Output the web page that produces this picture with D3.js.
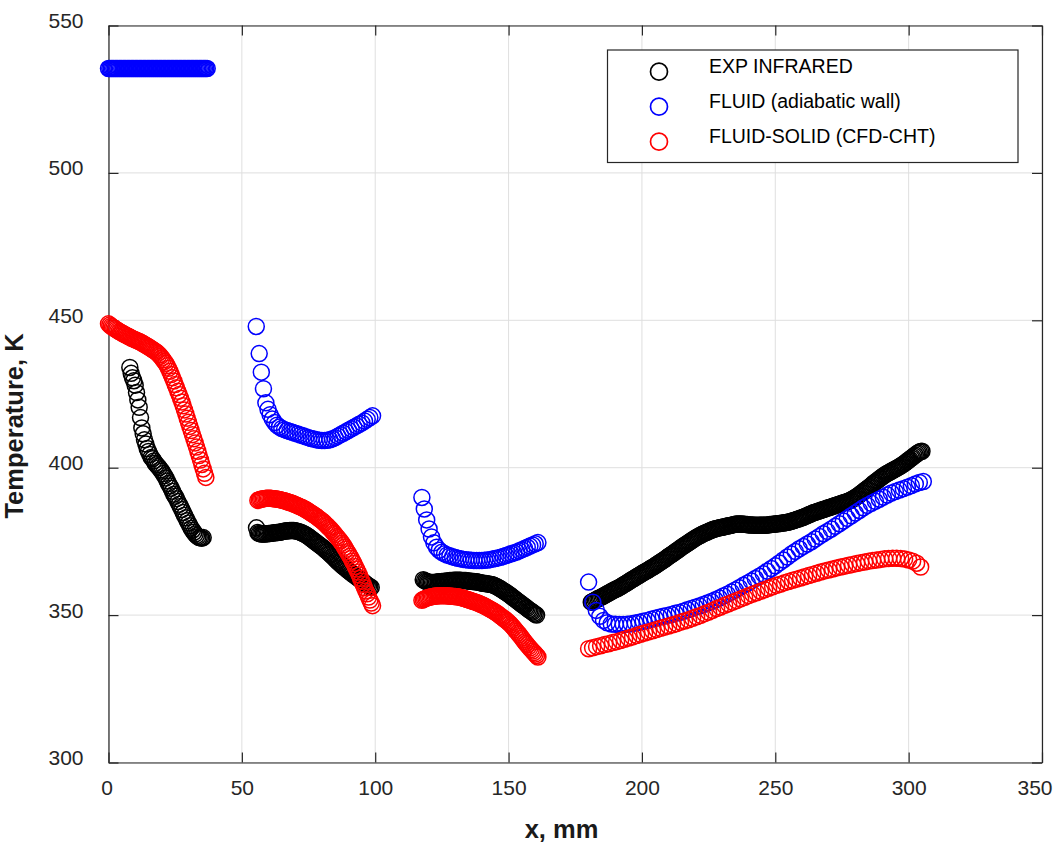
<!DOCTYPE html>
<html><head><meta charset="utf-8">
<script src="https://cdn.jsdelivr.net/npm/d3@7"></script>
<style>
html,body{margin:0;padding:0;background:#fff;}
svg{display:block;font-family:"Liberation Sans",Arial,Helvetica,sans-serif;}
</style></head><body>
<svg id="chart" width="1062" height="850"></svg>
<script>
// Axis ticks
const xTicks = [0, 50, 100, 150, 200, 250, 300, 350];
const yTicks = [300, 350, 400, 450, 500, 550];

// Legend labels
const seriesNames = ["EXP INFRARED", "FLUID (adiabatic wall)", "FLUID-SOLID (CFD-CHT)"];

// EXP INFRARED: wall temperature [x mm, T K], one array per measured section
const expSeg1 = [[8,434.0],[8.5,432.0],[9,430.5],[9.5,429.5],[10,428.0],[10.5,425.5],[11,423.0],[11.5,420.5],[12,417.0],[12.5,413.5],[13,411.5],[13.5,409.5],[14,408.0],[14.5,406.5],[15,405.5],[15.5,404.5],[16,403.5],[16.5,403.0],[17,402.3],[17.5,401.5],[18,401.0],[18.5,400.5],[19,400.0],[19.5,399.3],[20,398.8],[20.5,398.0],[21,397.3],[21.5,396.5],[22,395.5],[22.5,394.6],[23,393.8],[23.5,393.0],[24,392.0],[24.5,391.0],[25,390.3],[25.5,389.5],[26,388.5],[26.5,387.6],[27,386.8],[27.5,385.8],[28,384.8],[28.5,383.9],[29,383.0],[29.5,382.0],[30,381.2],[30.5,380.3],[31,379.5],[31.5,378.8],[32,378.1],[32.5,377.5],[33,377.0],[33.5,376.6],[34,376.3],[34.5,376.2],[35,376.1],[35.5,376.3]];
const expSeg2 = [[55.5,379.6],[56,378.0],[56.5,377.7],[57,377.6],[57.5,377.5],[58,377.5],[58.5,377.5],[59,377.6],[59.5,377.6],[60,377.7],[60.5,377.7],[61,377.8],[61.5,377.8],[62,377.9],[62.5,377.9],[63,378.0],[63.5,378.0],[64,378.1],[64.5,378.2],[65,378.3],[65.5,378.4],[66,378.5],[66.5,378.5],[67,378.6],[67.5,378.6],[68,378.7],[68.5,378.7],[69,378.7],[69.5,378.7],[70,378.6],[70.5,378.5],[71,378.4],[71.5,378.3],[72,378.1],[72.5,377.9],[73,377.7],[73.5,377.5],[74,377.2],[74.5,376.9],[75,376.6],[75.5,376.3],[76,375.9],[76.5,375.6],[77,375.2],[77.5,374.9],[78,374.5],[78.5,374.2],[79,373.8],[79.5,373.5],[80,373.2],[80.5,372.8],[81,372.4],[81.5,372.0],[82,371.6],[82.5,371.2],[83,370.8],[83.5,370.4],[84,369.9],[84.5,369.5],[85,369.0],[85.5,368.6],[86,368.1],[86.5,367.7],[87,367.3],[87.5,366.9],[88,366.5],[88.5,366.2],[89,365.8],[89.5,365.4],[90,365.0],[90.5,364.7],[91,364.3],[91.5,364.0],[92,363.6],[92.5,363.3],[93,363.0],[93.5,362.6],[94,362.3],[94.5,362.0],[95,361.6],[95.5,361.3],[96,360.9],[96.5,360.6],[97,360.2],[97.5,359.9],[98,359.6],[98.5,359.4]];
const expSeg3 = [[118,362.0],[118.5,361.7],[119,361.5],[119.5,361.3],[120,361.2],[120.5,361.1],[121,361.1],[121.5,361.1],[122,361.1],[122.5,361.1],[123,361.2],[123.5,361.2],[124,361.3],[124.5,361.3],[125,361.4],[125.5,361.4],[126,361.5],[126.5,361.5],[127,361.6],[127.5,361.6],[128,361.7],[128.5,361.7],[129,361.7],[129.5,361.8],[130,361.8],[130.5,361.8],[131,361.8],[131.5,361.8],[132,361.8],[132.5,361.7],[133,361.7],[133.5,361.7],[134,361.7],[134.5,361.6],[135,361.6],[135.5,361.5],[136,361.5],[136.5,361.4],[137,361.4],[137.5,361.3],[138,361.3],[138.5,361.2],[139,361.1],[139.5,361.0],[140,360.9],[140.5,360.8],[141,360.7],[141.5,360.7],[142,360.6],[142.5,360.5],[143,360.5],[143.5,360.4],[144,360.3],[144.5,360.1],[145,359.9],[145.5,359.7],[146,359.4],[146.5,359.2],[147,358.9],[147.5,358.6],[148,358.3],[148.5,358.0],[149,357.7],[149.5,357.4],[150,357.1],[150.5,356.8],[151,356.4],[151.5,356.1],[152,355.7],[152.5,355.4],[153,355.0],[153.5,354.7],[154,354.3],[154.5,354.0],[155,353.6],[155.5,353.3],[156,353.0],[156.5,352.6],[157,352.3],[157.5,351.9],[158,351.6],[158.5,351.3],[159,351.0],[159.5,350.6],[160,350.3],[160.5,350.0]];
const expSeg4 = [[181,354.4],[181.5,354.6],[182,354.8],[182.5,355.1],[183,355.3],[183.5,355.6],[184,355.8],[184.5,356.0],[185,356.2],[185.5,356.5],[186,356.7],[186.5,357.0],[187,357.2],[187.5,357.5],[188,357.7],[188.5,358.0],[189,358.2],[189.5,358.5],[190,358.7],[190.5,358.9],[191,359.1],[191.5,359.4],[192,359.6],[192.5,359.9],[193,360.2],[193.5,360.5],[194,360.7],[194.5,361.0],[195,361.3],[195.5,361.6],[196,361.9],[196.5,362.2],[197,362.4],[197.5,362.7],[198,363.0],[198.5,363.3],[199,363.5],[199.5,363.8],[200,364.1],[200.5,364.4],[201,364.6],[201.5,364.9],[202,365.1],[202.5,365.4],[203,365.7],[203.5,366.0],[204,366.2],[204.5,366.5],[205,366.8],[205.5,367.1],[206,367.4],[206.5,367.7],[207,368.0],[207.5,368.3],[208,368.6],[208.5,368.9],[209,369.2],[209.5,369.6],[210,369.9],[210.5,370.2],[211,370.5],[211.5,370.8],[212,371.1],[212.5,371.5],[213,371.8],[213.5,372.1],[214,372.4],[214.5,372.8],[215,373.1],[215.5,373.4],[216,373.7],[216.5,374.0],[217,374.3],[217.5,374.6],[218,374.9],[218.5,375.2],[219,375.5],[219.5,375.8],[220,376.1],[220.5,376.4],[221,376.6],[221.5,376.9],[222,377.1],[222.5,377.4],[223,377.6],[223.5,377.8],[224,378.0],[224.5,378.2],[225,378.4],[225.5,378.6],[226,378.8],[226.5,379.0],[227,379.1],[227.5,379.3],[228,379.4],[228.5,379.5],[229,379.6],[229.5,379.7],[230,379.8],[230.5,379.9],[231,380.0],[231.5,380.1],[232,380.2],[232.5,380.3],[233,380.4],[233.5,380.5],[234,380.6],[234.5,380.7],[235,380.8],[235.5,380.9],[236,380.9],[236.5,380.9],[237,380.9],[237.5,380.9],[238,380.8],[238.5,380.8],[239,380.7],[239.5,380.7],[240,380.6],[240.5,380.6],[241,380.6],[241.5,380.6],[242,380.5],[242.5,380.5],[243,380.5],[243.5,380.5],[244,380.5],[244.5,380.5],[245,380.5],[245.5,380.5],[246,380.5],[246.5,380.5],[247,380.6],[247.5,380.6],[248,380.7],[248.5,380.7],[249,380.8],[249.5,380.8],[250,380.9],[250.5,381.0],[251,381.0],[251.5,381.1],[252,381.1],[252.5,381.2],[253,381.2],[253.5,381.3],[254,381.4],[254.5,381.5],[255,381.6],[255.5,381.7],[256,381.8],[256.5,382.0],[257,382.1],[257.5,382.3],[258,382.4],[258.5,382.6],[259,382.7],[259.5,382.9],[260,383.0],[260.5,383.2],[261,383.4],[261.5,383.6],[262,383.8],[262.5,384.0],[263,384.2],[263.5,384.4],[264,384.6],[264.5,384.8],[265,384.9],[265.5,385.1],[266,385.2],[266.5,385.4],[267,385.5],[267.5,385.7],[268,385.8],[268.5,386.0],[269,386.1],[269.5,386.3],[270,386.4],[270.5,386.6],[271,386.7],[271.5,386.9],[272,387.0],[272.5,387.2],[273,387.3],[273.5,387.5],[274,387.6],[274.5,387.8],[275,387.9],[275.5,388.1],[276,388.2],[276.5,388.4],[277,388.5],[277.5,388.7],[278,388.9],[278.5,389.1],[279,389.4],[279.5,389.6],[280,389.9],[280.5,390.2],[281,390.5],[281.5,390.8],[282,391.2],[282.5,391.5],[283,391.9],[283.5,392.2],[284,392.6],[284.5,392.9],[285,393.3],[285.5,393.6],[286,394.0],[286.5,394.4],[287,394.8],[287.5,395.1],[288,395.5],[288.5,395.8],[289,396.2],[289.5,396.5],[290,396.9],[290.5,397.2],[291,397.5],[291.5,397.8],[292,398.1],[292.5,398.3],[293,398.6],[293.5,398.8],[294,399.1],[294.5,399.3],[295,399.6],[295.5,399.8],[296,400.1],[296.5,400.3],[297,400.6],[297.5,400.9],[298,401.2],[298.5,401.5],[299,401.9],[299.5,402.2],[300,402.6],[300.5,402.9],[301,403.3],[301.5,403.6],[302,404.0],[302.5,404.3],[303,404.7],[303.5,405.0],[304,405.3],[304.5,405.5],[305,405.6]];

// FLUID (adiabatic wall): [x mm, T K]
const fluidSeg1 = [[0,535.4],[0.5,535.4],[1,535.4],[1.5,535.4],[2,535.4],[2.5,535.4],[3,535.4],[3.5,535.4],[4,535.4],[4.5,535.4],[5,535.4],[5.5,535.4],[6,535.4],[6.5,535.4],[7,535.4],[7.5,535.4],[8,535.4],[8.5,535.4],[9,535.4],[9.5,535.4],[10,535.4],[10.5,535.4],[11,535.4],[11.5,535.4],[12,535.4],[12.5,535.4],[13,535.4],[13.5,535.4],[14,535.4],[14.5,535.4],[15,535.4],[15.5,535.4],[16,535.4],[16.5,535.4],[17,535.4],[17.5,535.4],[18,535.4],[18.5,535.4],[19,535.4],[19.5,535.4],[20,535.4],[20.5,535.4],[21,535.4],[21.5,535.4],[22,535.4],[22.5,535.4],[23,535.4],[23.5,535.4],[24,535.4],[24.5,535.4],[25,535.4],[25.5,535.4],[26,535.4],[26.5,535.4],[27,535.4],[27.5,535.4],[28,535.4],[28.5,535.4],[29,535.4],[29.5,535.4],[30,535.4],[30.5,535.4],[31,535.4],[31.5,535.4],[32,535.4],[32.5,535.4],[33,535.4],[33.5,535.4],[34,535.4],[34.5,535.4],[35,535.4],[35.5,535.4],[36,535.4],[36.5,535.4],[37,535.4]];
const fluidSeg2 = [[55.4,447.9],[56.5,438.7],[57.3,432.4],[58.1,426.8],[59.0,422.0],[59.8,419.8],[60.6,418.0],[61.4,416.5],[62.3,415.3],[63.2,414.4],[64.1,413.8],[65,413.3],[66,412.9],[67,412.6],[68,412.3],[69,412.0],[70,411.7],[71,411.4],[72,411.1],[73,410.8],[74,410.5],[75,410.2],[76,409.9],[77,409.7],[78,409.5],[79,409.3],[80,409.2],[81,409.2],[82,409.3],[83,409.5],[84,409.8],[85,410.2],[86,410.7],[87,411.2],[88,411.7],[89,412.2],[90,412.7],[91,413.2],[92,413.7],[93,414.2],[94,414.7],[95,415.2],[96,415.8],[97,416.4],[98,417.0],[99,417.6]];
const fluidSeg3 = [[117.5,389.9],[118.4,386.0],[119.3,382.3],[120.2,379.2],[121.1,376.5],[122,374.5],[123,373.0],[124,372.0],[125,371.3],[126,370.8],[127,370.4],[128,370.1],[129,369.8],[130,369.5],[131,369.3],[132,369.1],[133,368.9],[134,368.8],[135,368.7],[136,368.6],[137,368.5],[138,368.5],[139,368.5],[140,368.5],[141,368.6],[142,368.7],[143,368.8],[144,369.0],[145,369.2],[146,369.4],[147,369.6],[148,369.9],[149,370.2],[150,370.5],[151,370.8],[152,371.1],[153,371.4],[154,371.8],[155,372.2],[156,372.6],[157,373.0],[158,373.4],[159,373.8],[160,374.2],[161,374.6]];
const fluidSeg4 = [[180.0,361.2],[181.6,354.4],[182.9,351.6],[184.2,349.6],[185.6,348.2],[187.0,347.4],[188.5,347.0],[190,346.9],[191.5,346.8],[193,346.8],[194.5,346.9],[196,347.1],[197.5,347.3],[199,347.6],[200.5,347.9],[202,348.2],[203.5,348.6],[205,348.9],[206.5,349.3],[208,349.6],[209.5,349.9],[211,350.2],[212.5,350.6],[214,350.9],[215.5,351.3],[217,351.8],[218.5,352.2],[220,352.7],[221.5,353.1],[223,353.6],[224.5,354.1],[226,354.6],[227.5,355.2],[229,355.8],[230.5,356.5],[232,357.1],[233.5,357.8],[235,358.5],[236.5,359.3],[238,360.1],[239.5,360.8],[241,361.6],[242.5,362.4],[244,363.2],[245.5,364.0],[247,364.9],[248.5,365.8],[250,366.7],[251.5,367.7],[253,368.7],[254.5,369.7],[256,370.7],[257.5,371.6],[259,372.5],[260.5,373.3],[262,374.1],[263.5,374.9],[265,375.8],[266.5,376.7],[268,377.6],[269.5,378.4],[271,379.2],[272.5,380.1],[274,381.0],[275.5,381.9],[277,382.8],[278.5,383.7],[280,384.6],[281.5,385.5],[283,386.4],[284.5,387.2],[286,387.9],[287.5,388.6],[289,389.3],[290.5,390.0],[292,390.7],[293.5,391.4],[295,391.9],[296.5,392.4],[298,392.9],[299.5,393.4],[301,393.9],[302.5,394.5],[304,395.0],[305.5,395.3]];

// FLUID-SOLID (CFD-CHT): [x mm, T K]
const chtSeg1 = [[0,448.8],[0.5,448.4],[1,448.0],[1.5,447.7],[2,447.4],[2.5,447.1],[3,446.8],[3.5,446.5],[4,446.2],[4.5,446.0],[5,445.7],[5.5,445.5],[6,445.2],[6.5,445.0],[7,444.7],[7.5,444.5],[8,444.3],[8.5,444.0],[9,443.8],[9.5,443.6],[10,443.4],[10.5,443.2],[11,443.0],[11.5,442.8],[12,442.6],[12.5,442.3],[13,442.1],[13.5,441.8],[14,441.5],[14.5,441.3],[15,441.0],[15.5,440.7],[16,440.4],[16.5,440.1],[17,439.8],[17.5,439.5],[18,439.2],[18.5,438.8],[19,438.3],[19.5,437.8],[20,437.2],[20.5,436.6],[21,436.0],[21.5,435.4],[22,434.6],[22.5,433.7],[23,432.7],[23.5,431.6],[24,430.5],[24.5,429.4],[25,428.2],[25.5,427.1],[26,425.9],[26.5,424.8],[27,423.6],[27.5,422.3],[28,421.0],[28.5,419.6],[29,418.2],[29.5,416.8],[30,415.4],[30.5,414.0],[31,412.6],[31.5,411.2],[32,409.8],[32.5,408.4],[33,407.0],[33.5,405.6],[34,404.1],[34.5,402.6],[35,401.1],[35.5,399.6],[36,398.1],[36.5,396.7]];
const chtSeg2 = [[56,388.9],[56.5,389.1],[57,389.3],[57.5,389.4],[58,389.5],[58.5,389.5],[59,389.6],[59.5,389.6],[60,389.6],[60.5,389.6],[61,389.6],[61.5,389.5],[62,389.5],[62.5,389.5],[63,389.4],[63.5,389.3],[64,389.2],[64.5,389.1],[65,389.0],[65.5,388.9],[66,388.8],[66.5,388.6],[67,388.5],[67.5,388.3],[68,388.2],[68.5,388.0],[69,387.9],[69.5,387.7],[70,387.5],[70.5,387.3],[71,387.1],[71.5,386.9],[72,386.7],[72.5,386.5],[73,386.3],[73.5,386.0],[74,385.8],[74.5,385.5],[75,385.2],[75.5,384.9],[76,384.6],[76.5,384.3],[77,384.0],[77.5,383.7],[78,383.4],[78.5,383.0],[79,382.7],[79.5,382.3],[80,382.0],[80.5,381.6],[81,381.2],[81.5,380.7],[82,380.3],[82.5,379.8],[83,379.4],[83.5,378.9],[84,378.4],[84.5,377.8],[85,377.3],[85.5,376.7],[86,376.2],[86.5,375.6],[87,375.1],[87.5,374.4],[88,373.8],[88.5,373.0],[89,372.3],[89.5,371.5],[90,370.8],[90.5,370.0],[91,369.2],[91.5,368.3],[92,367.5],[92.5,366.5],[93,365.6],[93.5,364.6],[94,363.6],[94.5,362.5],[95,361.5],[95.5,360.4],[96,359.3],[96.5,358.2],[97,357.2],[97.5,356.1],[98,355.1],[98.5,354.1],[99,353.2]];
const chtSeg3 = [[117.5,355.0],[118,355.3],[118.5,355.5],[119,355.7],[119.5,355.9],[120,356.0],[120.5,356.1],[121,356.2],[121.5,356.3],[122,356.4],[122.5,356.5],[123,356.5],[123.5,356.6],[124,356.6],[124.5,356.6],[125,356.6],[125.5,356.6],[126,356.6],[126.5,356.6],[127,356.6],[127.5,356.5],[128,356.5],[128.5,356.4],[129,356.4],[129.5,356.3],[130,356.3],[130.5,356.2],[131,356.2],[131.5,356.1],[132,356.0],[132.5,355.9],[133,355.8],[133.5,355.6],[134,355.5],[134.5,355.3],[135,355.2],[135.5,355.0],[136,354.9],[136.5,354.7],[137,354.6],[137.5,354.4],[138,354.3],[138.5,354.1],[139,353.9],[139.5,353.7],[140,353.5],[140.5,353.3],[141,353.1],[141.5,352.8],[142,352.6],[142.5,352.3],[143,352.1],[143.5,351.8],[144,351.6],[144.5,351.3],[145,351.0],[145.5,350.7],[146,350.4],[146.5,350.0],[147,349.7],[147.5,349.3],[148,349.0],[148.5,348.6],[149,348.3],[149.5,347.9],[150,347.5],[150.5,347.1],[151,346.6],[151.5,346.1],[152,345.6],[152.5,345.0],[153,344.5],[153.5,343.9],[154,343.4],[154.5,342.8],[155,342.2],[155.5,341.6],[156,341.0],[156.5,340.4],[157,339.9],[157.5,339.3],[158,338.8],[158.5,338.3],[159,337.8],[159.5,337.3],[160,336.8],[160.5,336.3],[161,335.8]];
const chtSeg4 = [[180,338.6],[181.5,338.9],[183,339.3],[184.5,339.6],[186,340.0],[187.5,340.3],[189,340.7],[190.5,341.0],[192,341.4],[193.5,341.8],[195,342.2],[196.5,342.6],[198,343.1],[199.5,343.5],[201,343.9],[202.5,344.3],[204,344.7],[205.5,345.1],[207,345.5],[208.5,345.9],[210,346.3],[211.5,346.7],[213,347.1],[214.5,347.6],[216,348.0],[217.5,348.4],[219,348.9],[220.5,349.4],[222,349.9],[223.5,350.5],[225,351.0],[226.5,351.6],[228,352.2],[229.5,352.7],[231,353.3],[232.5,353.8],[234,354.4],[235.5,354.9],[237,355.5],[238.5,356.0],[240,356.6],[241.5,357.1],[243,357.6],[244.5,358.1],[246,358.6],[247.5,359.1],[249,359.6],[250.5,360.1],[252,360.5],[253.5,361.0],[255,361.4],[256.5,361.8],[258,362.2],[259.5,362.6],[261,363.0],[262.5,363.4],[264,363.8],[265.5,364.2],[267,364.6],[268.5,365.0],[270,365.3],[271.5,365.6],[273,366.0],[274.5,366.3],[276,366.6],[277.5,366.9],[279,367.2],[280.5,367.5],[282,367.8],[283.5,368.0],[285,368.3],[286.5,368.5],[288,368.7],[289.5,368.9],[291,369.1],[292.5,369.2],[294,369.3],[295.5,369.3],[297,369.2],[298.5,369.0],[300,368.7],[301.5,368.3],[303,367.6],[304.5,366.3]];

const seriesColors = ["#000000", "#0000ff", "#ff0000"];
const seriesData = [
  [...expSeg1, ...expSeg2, ...expSeg3, ...expSeg4],
  [...fluidSeg1, ...fluidSeg2, ...fluidSeg3, ...fluidSeg4],
  [...chtSeg1, ...chtSeg2, ...chtSeg3, ...chtSeg4]
];

// ---- layout ----
const plot = {left: 108.5, right: 1042, top: 25.5, bottom: 762.5};
const markerR = 8, markerW = 1.5;
const axisColor = "#262626";

const svg = d3.select("#chart");
const x = d3.scaleLinear().domain([0, 350]).range([plot.left, plot.right]);
const y = d3.scaleLinear().domain([300, 550]).range([plot.bottom, plot.top]);

// grid lines
const grid = svg.append("g").attr("stroke", "#dfdfdf").attr("stroke-width", 1);
grid.selectAll("line.gx").data(xTicks).join("line").attr("class", "gx")
  .attr("x1", d => x(d)).attr("x2", d => x(d)).attr("y1", plot.top).attr("y2", plot.bottom);
grid.selectAll("line.gy").data(yTicks).join("line").attr("class", "gy")
  .attr("y1", d => y(d)).attr("y2", d => y(d)).attr("x1", plot.left).attr("x2", plot.right);

// axes: box with inward ticks on all four sides
function styleAxis(g) {
  g.select(".domain").attr("stroke", axisColor).attr("stroke-width", 1.2);
  g.selectAll(".tick line").attr("stroke", axisColor).attr("stroke-width", 1.2);
  g.selectAll("text").attr("fill", axisColor).style("font-size", "21px")
    .style("font-family", '"Liberation Sans", Arial, sans-serif');
}
const gx = svg.append("g").attr("transform", `translate(0,${plot.bottom})`)
  .call(d3.axisBottom(x).tickValues(xTicks).tickSize(-10).tickSizeOuter(0).tickFormat(d3.format("d")))
  .call(styleAxis);
gx.selectAll("text").attr("y", 32).attr("dy", null);
// the last label sits just inside the right edge
gx.selectAll(".tick").filter(d => d === xTicks[xTicks.length - 1]).select("text")
  .attr("text-anchor", "end").attr("x", 10);
gx.selectAll(".tick").filter(d => d === xTicks[0]).select("text").attr("x", -2);
svg.append("g").attr("transform", `translate(0,${plot.top})`)
  .call(d3.axisTop(x).tickValues(xTicks).tickSize(-10).tickSizeOuter(0).tickFormat(""))
  .call(styleAxis);
const gy = svg.append("g").attr("transform", `translate(${plot.left},0)`)
  .call(d3.axisLeft(y).tickValues(yTicks).tickSize(-10).tickSizeOuter(0).tickFormat(d3.format("d")))
  .call(styleAxis);
gy.selectAll("text").attr("x", -25).attr("dy", null).attr("y", 2);
svg.append("g").attr("transform", `translate(${plot.right},0)`)
  .call(d3.axisRight(y).tickValues(yTicks).tickSize(-10).tickSizeOuter(0).tickFormat(""))
  .call(styleAxis);

// markers
seriesData.forEach((pts, i) => {
  svg.append("g")
    .selectAll("circle").data(pts).join("circle")
    .attr("cx", d => x(d[0])).attr("cy", d => y(d[1])).attr("r", markerR)
    .attr("fill", "none").attr("stroke", seriesColors[i]).attr("stroke-width", markerW);
});

// axis titles
svg.append("text").attr("x", 561.5).attr("y", 838).attr("text-anchor", "middle")
  .style("font-size", "25.5px").style("font-weight", "bold").attr("fill", "#1a1a1a")
  .text("x, mm");
svg.append("text").attr("transform", "translate(23,426) rotate(-90)").attr("text-anchor", "middle")
  .style("font-size", "25.5px").style("font-weight", "bold").attr("fill", "#1a1a1a")
  .text("Temperature, K");

// legend
const lg = svg.append("g");
lg.append("rect").attr("x", 607.5).attr("y", 50).attr("width", 410.5).attr("height", 112.5)
  .attr("fill", "#fff").attr("stroke", axisColor).attr("stroke-width", 1.2);
seriesNames.forEach((name, i) => {
  const cy = 71.7 + i * 35;
  lg.append("circle").attr("cx", 659).attr("cy", cy).attr("r", 8.5)
    .attr("fill", "none").attr("stroke", seriesColors[i]).attr("stroke-width", 1.7);
  lg.append("text").attr("x", 709).attr("y", cy + 0.8).style("font-size", "19.5px")
    .attr("fill", "#000").text(name);
});
</script>
</body></html>
